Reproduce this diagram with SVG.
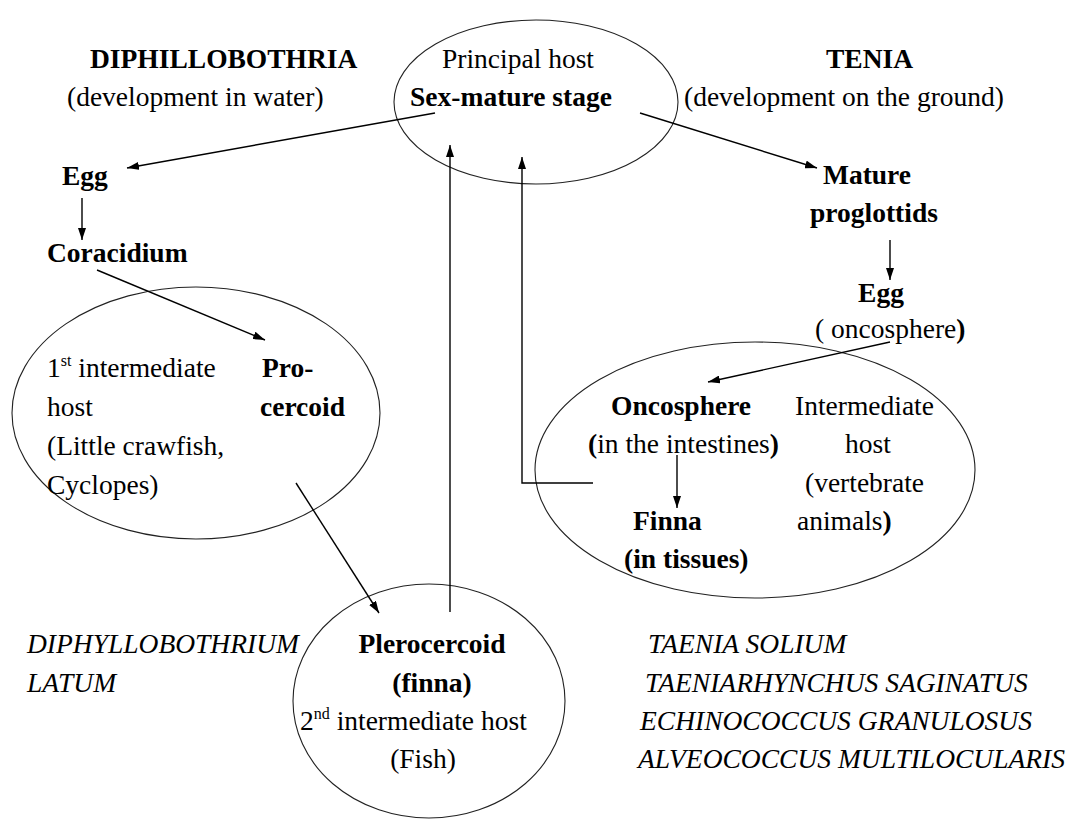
<svg xmlns="http://www.w3.org/2000/svg" width="1078" height="819" viewBox="0 0 1078 819">
<defs>
<style>
text{font-family:"Liberation Serif","Times New Roman",serif;font-size:27.5px;fill:#000}
.b{font-weight:bold}
.i{font-style:italic}
.m{text-anchor:middle}
.sup{font-size:16px}
.host{fill:none;stroke:#222;stroke-width:1.1}
.c{fill:none;stroke:#000;stroke-width:1.4}
</style>
<marker id="ah" viewBox="0 0 12 8" refX="12" refY="4" markerWidth="12" markerHeight="8" markerUnits="userSpaceOnUse" orient="auto">
<path d="M0,0 L12,4 L0,8 Z" fill="#000"/>
</marker>
</defs>
<rect width="1078" height="819" fill="#fff"/>

<g id="title-left">
<text class="b" x="90" y="68">DIPHILLOBOTHRIA</text>
<text x="67" y="106">(development in water)</text>
</g>
<g id="title-right">
<text class="b" x="826" y="68">TENIA</text>
<text x="684" y="106">(development on the ground)</text>
</g>

<g id="principal-host">
<ellipse class="host" cx="536" cy="102" rx="142" ry="82"/>
<text class="m" x="518" y="68">Principal host</text>
<text class="b m" x="511" y="106">Sex-mature stage</text>
</g>

<g id="egg-left"><text class="b" x="62" y="185">Egg</text></g>
<g id="coracidium"><text class="b" x="47" y="262">Coracidium</text></g>

<g id="first-host">
<ellipse class="host" cx="196" cy="413" rx="184" ry="126"/>
<text x="47" y="377">1<tspan class="sup" dy="-11">st</tspan><tspan dy="11"> intermediate</tspan></text>
<text x="47" y="416">host</text>
<text x="47" y="455">(Little crawfish,</text>
<text x="47" y="494">Cyclopes)</text>
<text class="b" x="262" y="377">Pro-</text>
<text class="b" x="260" y="416">cercoid</text>
</g>

<g id="second-host">
<ellipse class="host" cx="429" cy="701" rx="136" ry="117"/>
<text class="b m" x="432" y="653">Plerocercoid</text>
<text class="b m" x="432" y="692">(finna)</text>
<text x="300" y="730">2<tspan class="sup" dy="-11">nd</tspan><tspan dy="11"> intermediate host</tspan></text>
<text class="m" x="423" y="768">(Fish)</text>
</g>

<g id="species-left">
<text class="i" x="27" y="653">DIPHYLLOBOTHRIUM</text>
<text class="i" x="27" y="692">LATUM</text>
</g>

<g id="proglottids">
<text class="b m" x="867" y="184">Mature</text>
<text class="b m" x="874" y="222">proglottids</text>
</g>
<g id="egg-right">
<text class="b m" x="881" y="302">Egg</text>
<text x="815" y="338">( oncosphere<tspan class="b">)</tspan></text>
</g>

<g id="intermediate-host">
<ellipse class="host" cx="755" cy="470" rx="220" ry="128"/>
<text class="b" x="611" y="415">Oncosphere</text>
<text x="588" y="453"><tspan class="b">(</tspan>in the intestines<tspan class="b">)</tspan></text>
<text x="795" y="415">Intermediate</text>
<text class="m" x="868" y="453">host</text>
<text x="805" y="492">(vertebrate</text>
<text x="797" y="530">animals<tspan class="b">)</tspan></text>
<text class="b" x="633" y="530">Finna</text>
<text class="b" x="624" y="568">(in tissues)</text>
</g>

<g id="species-right">
<text class="i" x="648" y="653">TAENIA SOLIUM</text>
<text class="i" x="645" y="692">TAENIARHYNCHUS SAGINATUS</text>
<text class="i" x="640" y="730">ECHINOCOCCUS GRANULOSUS</text>
<text class="i" x="638" y="768">ALVEOCOCCUS MULTILOCULARIS</text>
</g>

<g id="connectors">
<line class="c" x1="435" y1="113" x2="127" y2="168" marker-end="url(#ah)"/>
<line class="c" x1="82" y1="198" x2="82" y2="240" marker-end="url(#ah)"/>
<line class="c" x1="97" y1="270" x2="265" y2="340" marker-end="url(#ah)"/>
<line class="c" x1="296" y1="483" x2="379" y2="613" marker-end="url(#ah)"/>
<line class="c" x1="450" y1="612" x2="450" y2="145" marker-end="url(#ah)"/>
<polyline class="c" points="593,483 522,483 522,157" marker-end="url(#ah)"/>
<line class="c" x1="640" y1="113" x2="817" y2="168" marker-end="url(#ah)"/>
<line class="c" x1="890" y1="240" x2="890" y2="280" marker-end="url(#ah)"/>
<line class="c" x1="890" y1="342" x2="708" y2="382" marker-end="url(#ah)"/>
<line class="c" x1="677" y1="455" x2="677" y2="508" marker-end="url(#ah)"/>
</g>
</svg>
